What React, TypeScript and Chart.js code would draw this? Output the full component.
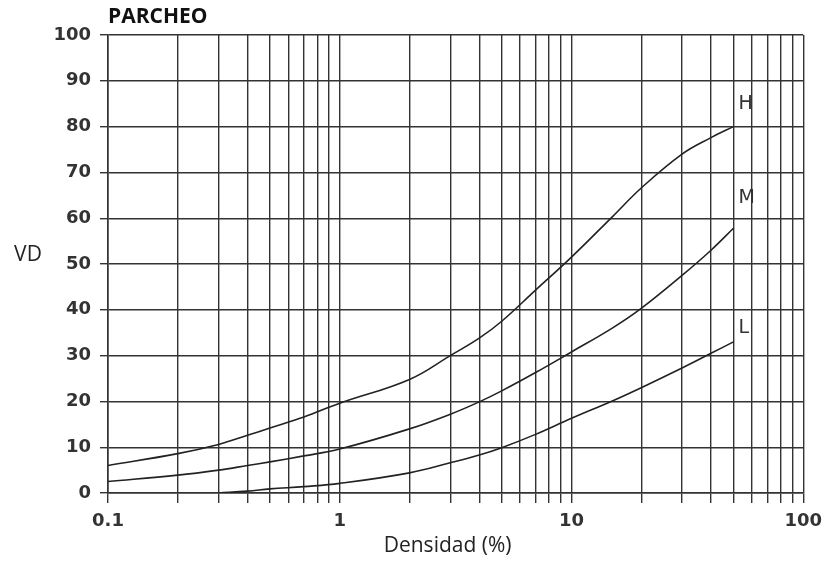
import React, { useEffect, useRef } from "react";
import { Chart, registerables } from "chart.js";

Chart.register(...registerables);

const densidad = [0.1, 0.2, 0.3, 0.4, 0.5, 0.7, 1, 2, 3, 4, 5, 7, 10, 15, 20, 30, 40, 50];
const vdH = [6, 8.6, 10.6, 12.6, 14.2, 16.6, 19.6, 24.8, 30, 33.8, 37.5, 44.3, 51.5, 60.3, 66.6, 74, 77.6, 80];
const vdM = [2.5, 3.9, 5, 6, 6.8, 8.1, 9.6, 14, 17.2, 19.9, 22.3, 26.3, 30.8, 36, 40.3, 47.5, 53, 57.8];
const vdL = [null, null, 0, 0.4, 0.9, 1.4, 2.1, 4.4, 6.6, 8.3, 9.9, 12.8, 16.3, 20.1, 23, 27.3, 30.5, 33];

const curveNames = ["H", "M", "L"];
const curveLabelY = [85, 64.5, 36];
const curveLabelX = 52;

const xMajorTicks = [0.1, 1, 10, 100];
const xTickValues: number[] = [];
[0.1, 1, 10].forEach((d) => {
  for (let k = 1; k <= 9; k++) xTickValues.push(+(d * k).toPrecision(3));
});
xTickValues.push(100);

const chartTitle = "PARCHEO";
const xTitle = "Densidad (%)";
const yTitle = "VD";

const GRID = "#333333";
const INK = "#222222";

export default function App() {
  const ref = useRef<HTMLCanvasElement | null>(null);

  useEffect(() => {
    if (!ref.current) return;
    const series = [vdH, vdM, vdL];
    const textPlugin = {
      id: "texts",
      afterDatasetsDraw(chart: any) {
        const { ctx, chartArea, scales } = chart;
        ctx.save();
        ctx.fillStyle = "#111";
        ctx.font = "bold 21px 'Open Sans'";
        ctx.textAlign = "left";
        ctx.textBaseline = "middle";
        ctx.fillText(chartTitle, chartArea.left, 17);

        ctx.fillStyle = "#222";
        ctx.font = "21px 'Open Sans'";
        ctx.textAlign = "center";
        ctx.fillText(xTitle, (chartArea.left + chartArea.right) / 2 - 8, 546);
        ctx.fillText(yTitle, 28, scales.y.getPixelForValue(52));

        ctx.font = "19px 'DejaVu Sans'";
        ctx.fillStyle = "#333";
        ctx.textAlign = "left";
        curveNames.forEach((n, i) => {
          ctx.fillText(n, scales.x.getPixelForValue(curveLabelX) + 1, scales.y.getPixelForValue(curveLabelY[i]));
        });
        ctx.restore();
      },
    };
    const chart = new Chart(ref.current, {
      type: "line",
      data: {
        datasets: series.map((s, i) => ({
          label: curveNames[i],
          data: densidad.map((x, j) => ({ x, y: s[j] })),
          borderColor: INK,
          borderWidth: 1.6,
          pointRadius: 0,
          fill: false,
          tension: 0.4,
          spanGaps: false,
        })),
      },
      options: {
        animation: false,
        responsive: true,
        maintainAspectRatio: false,
        layout: { padding: { top: 35, right: 25, left: 0, bottom: 0 } },
        plugins: { legend: { display: false }, tooltip: { enabled: false }, title: { display: false } },
        scales: {
          x: {
            type: "logarithmic",
            min: 0.1,
            max: 100,
            afterBuildTicks: (scale: any) => {
              scale.ticks = xTickValues.map((v) => ({ value: v, major: xMajorTicks.includes(v) }));
            },
            afterFit: (scale: any) => {
              scale.height = 69;
            },
            ticks: {
              autoSkip: false,
              maxRotation: 0,
              padding: 8,
              color: "#333",
              font: { family: "'DejaVu Sans'", size: 18, weight: "bold" },
              callback: (v: any) => (xMajorTicks.includes(Number(v)) ? String(v) : ""),
            },
            grid: { color: GRID, lineWidth: 1.4, tickLength: 10, drawTicks: true },
            border: { color: GRID, width: 1.6 },
          },
          y: {
            min: 0,
            max: 100,
            afterFit: (scale: any) => {
              scale.width = 108;
            },
            ticks: {
              stepSize: 10,
              padding: 9,
              color: "#333",
              font: { family: "'DejaVu Sans'", size: 18, weight: "bold" },
            },
            grid: { color: GRID, lineWidth: 1.4, tickLength: 8 },
            border: { color: GRID, width: 1.6 },
          },
        },
      },
      plugins: [textPlugin],
    });
    return () => chart.destroy();
  }, []);

  return (
    <div style={{ position: "fixed", left: 0, top: 0, width: 830, height: 562, background: "#fff" }}>
      <canvas ref={ref} />
    </div>
  );
}
